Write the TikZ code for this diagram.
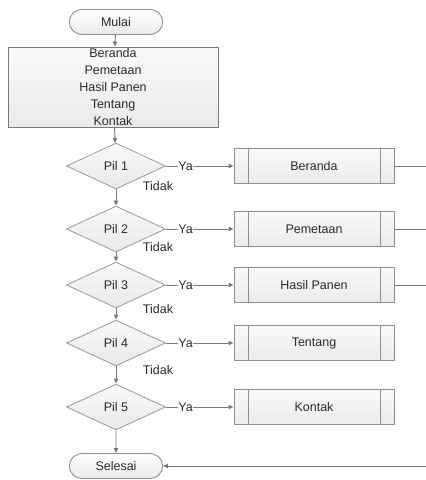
\documentclass[tikz,border=0pt]{standalone}
\usepackage{fontspec}
\setmainfont{Liberation Sans}
\usetikzlibrary{arrows.meta,positioning,calc,shapes.geometric,shapes.misc}
\definecolor{lineGray}{HTML}{7A7A7A}
\definecolor{edgeGray}{HTML}{8F8F8F}
\definecolor{textGray}{HTML}{2A2A2A}

\begin{document}
\begin{tikzpicture}[x=1pt, y=-1pt, >={Triangle[length=5pt,width=4.5pt]},
  every node/.style={font=\fontsize{12.5}{17}\selectfont, text=textGray},
  flow/.style={draw=lineGray, line width=0.9pt, ->},
  plain/.style={draw=lineGray, line width=0.9pt},
  terminal/.style={rounded rectangle, draw=edgeGray, line width=0.9pt, top color=white, bottom color=gray!16, minimum width=100pt, minimum height=25pt},
  menubox/.style={rectangle, draw=lineGray, line width=0.9pt, top color=gray!4, bottom color=gray!16, minimum width=210pt, minimum height=80pt, inner sep=0pt, align=center},
  decision/.style={diamond, draw=edgeGray!85, line width=0.9pt, top color=gray!4, bottom color=gray!18, minimum width=99pt, minimum height=46pt, inner sep=0pt},
  subproc/.style={rectangle, draw=edgeGray, line width=0.9pt, top color=gray!4, bottom color=gray!16, minimum width=160pt, minimum height=35pt}]
\useasboundingbox (0,0) rectangle (426,480);

\node[terminal] (mulai) at (116,22) {Mulai};
\node[menubox] (menu) at (113,87) {Beranda\\Pemetaan\\Hasil Panen\\Tentang\\Kontak};
\node[terminal] (selesai) at (116,466) {Selesai};

% pilihan menu
\foreach \i/\y/\name in {1/166/Beranda,2/229/Pemetaan,3/285/Hasil Panen,4/343/Tentang,5/407/Kontak} {
    \node[decision] (p\i) at (116,\y) {Pil \i};
    \node[subproc] (b\i) at (314,\y) {\name};
    \draw[draw=edgeGray] ($(b\i.north west)+(15,0)$) -- ($(b\i.south west)+(15,0)$);
    \draw[draw=edgeGray] ($(b\i.north east)+(-14,0)$) -- ($(b\i.south east)+(-14,0)$);
    \draw[flow] (p\i.east) -- node[pos=0.29, fill=white, inner sep=0.3pt] {Ya} (b\i.west);
}

\foreach \i/\y in {1/186,2/247,3/309,4/370} {
    \node (t\i) at (158,\y) {Tidak};
}

\draw[flow] (mulai) -- (menu);
\draw[flow] (menu) -- (p1);
\draw[flow] (p1) -- (p2);
\draw[flow] (p2) -- (p3);
\draw[flow] (p3) -- (p4);
\draw[flow] (p4) -- (p5);
\draw[flow] (p5) -- (selesai);

% garis keluar ke kanan
\foreach \i/\y in {1/166,2/229,3/285} {
    \coordinate (r\i) at (426,\y);
    \draw[plain] (b\i.east) -- (r\i);
}
\coordinate (rEnd) at (426,466);
\draw[flow] (rEnd) -- (selesai.east);
\end{tikzpicture}
\end{document}
